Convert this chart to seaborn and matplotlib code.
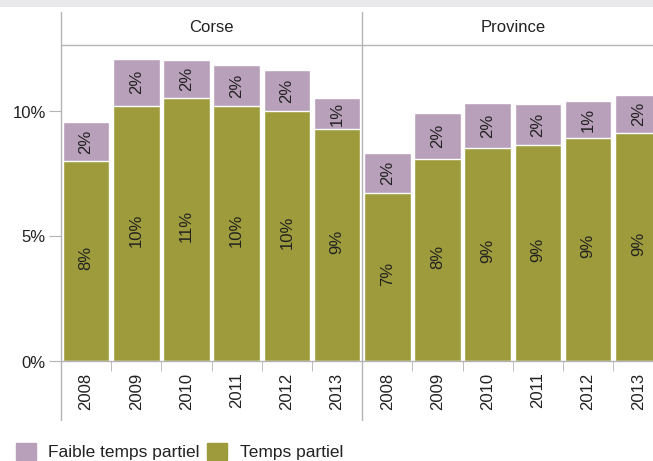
import numpy as np
import pandas as pd
import matplotlib
matplotlib.use('Agg')
import matplotlib.pyplot as plt
import seaborn as sns
from matplotlib.lines import Line2D
from matplotlib.patches import Patch, Rectangle

sns.set_style('white')
plt.rcParams['font.family'] = ['Liberation Sans', 'DejaVu Sans']

# data (share of employees, %)
regions = ['Corse'] * 6 + ['Province'] * 6
years = ['2008', '2009', '2010', '2011', '2012', '2013'] * 2
temps_partiel = [8.02, 10.23, 10.54, 10.23, 10.02, 9.31,
                 6.73, 8.09, 8.54, 8.67, 8.93, 9.13]
faible_temps_partiel = [1.55, 1.87, 1.52, 1.63, 1.64, 1.22,
                        1.62, 1.86, 1.81, 1.62, 1.49, 1.54]
temps_labels = ['8%', '10%', '11%', '10%', '10%', '9%',
                '7%', '8%', '9%', '9%', '9%', '9%']
faible_labels = ['2%', '2%', '2%', '2%', '2%', '1%',
                 '2%', '2%', '2%', '2%', '1%', '2%']

df = pd.DataFrame({'region': regions, 'year': years,
                   'temps': temps_partiel, 'faible': faible_temps_partiel})
df['total'] = df['temps'] + df['faible']
df['key'] = df['region'] + ' ' + df['year']

PINK = '#b9a0ba'
GREEN = '#9d9b3b'
GRID = '#b4b4b4'
TXT = '#222222'
FS = 12

W, H = 653, 461
fig = plt.figure(figsize=(W / 100, H / 100), dpi=100)


def fx(x):
    return x / W


def fy(y):
    return 1 - y / H


# axes area: x from 61 px, 12 slots of 50.2 px (right edge is cut off)
x0, x1 = 61, 61 + 12 * 50.2
y_top, y_zero = 45, 361.5
ax = fig.add_axes([fx(x0), fy(y_zero), (x1 - x0) / W, (y_zero - y_top) / H])

sns.barplot(data=df, x='key', y='total', color=PINK, width=0.93,
            saturation=1, ax=ax, order=list(df['key']))
sns.barplot(data=df, x='key', y='temps', color=GREEN, width=0.93,
            saturation=1, ax=ax, order=list(df['key']))

ax.set_xlim(-0.5, 11.5)
ax.set_ylim(0, (y_zero - y_top) / 25.0)
ax.set_xlabel('')
ax.set_ylabel('')

# segment labels
for i, row in df.iterrows():
    ax.text(i, row['temps'] / 2 + 0.15, temps_labels[i], rotation=90,
            ha='center', va='center', fontsize=FS, color=TXT)
    ax.text(i, row['temps'] + row['faible'] / 2, faible_labels[i], rotation=90,
            ha='center', va='center', fontsize=FS, color=TXT)

# y axis
ax.set_yticks([0, 5, 10])
ax.set_yticklabels(['0%', '5%', '10%'], fontsize=FS, color=TXT)
ax.tick_params(axis='y', length=9, color=GRID, pad=2, left=True)

# x axis: years below, small ticks between bars
ax.set_xticks(range(12))
ax.set_xticklabels(years, rotation=90, fontsize=FS, color=TXT)
ax.tick_params(axis='x', length=0, pad=8)
ax.set_xticks([i + 0.5 for i in range(12) if i != 5], minor=True)
ax.tick_params(axis='x', which='minor', length=7, color=GRID, bottom=True)

for s in ['top', 'right', 'left']:
    ax.spines[s].set_visible(False)
ax.spines['bottom'].set_color(GRID)
ax.spines['bottom'].set_linewidth(1)

# facet header and panel separators
sep = 61 + 6 * 50.2
fig.add_artist(Line2D([fx(x0), fx(x0)], [fy(12), fy(420)], color=GRID, lw=1))
fig.add_artist(Line2D([fx(sep), fx(sep)], [fy(12), fy(420)], color=GRID, lw=1))
fig.add_artist(Line2D([fx(x0), 1], [fy(45), fy(45)], color=GRID, lw=1))
fig.text(fx((x0 + sep) / 2), fy(28), 'Corse', ha='center', va='center',
         fontsize=FS, color=TXT)
fig.text(fx((sep + x1) / 2), fy(28), 'Province', ha='center', va='center',
         fontsize=FS, color=TXT)

# grey strip of the cropped title bar at the top
fig.add_artist(Rectangle((0, fy(7)), 1, 7 / H, color='#e9e9eb', lw=0))

# legend
handles = [Patch(color=PINK, label='Faible temps partiel'),
           Patch(color=GREEN, label='Temps partiel')]
fig.legend(handles=handles, loc='lower left', bbox_to_anchor=(fx(16), fy(460)),
           ncol=2, frameon=False, fontsize=12.5, handlelength=1.15,
           handleheight=1.15, handletextpad=0.7, columnspacing=0.45,
           borderpad=0, borderaxespad=0, labelcolor=TXT)

fig.savefig('out.png', dpi=100)
